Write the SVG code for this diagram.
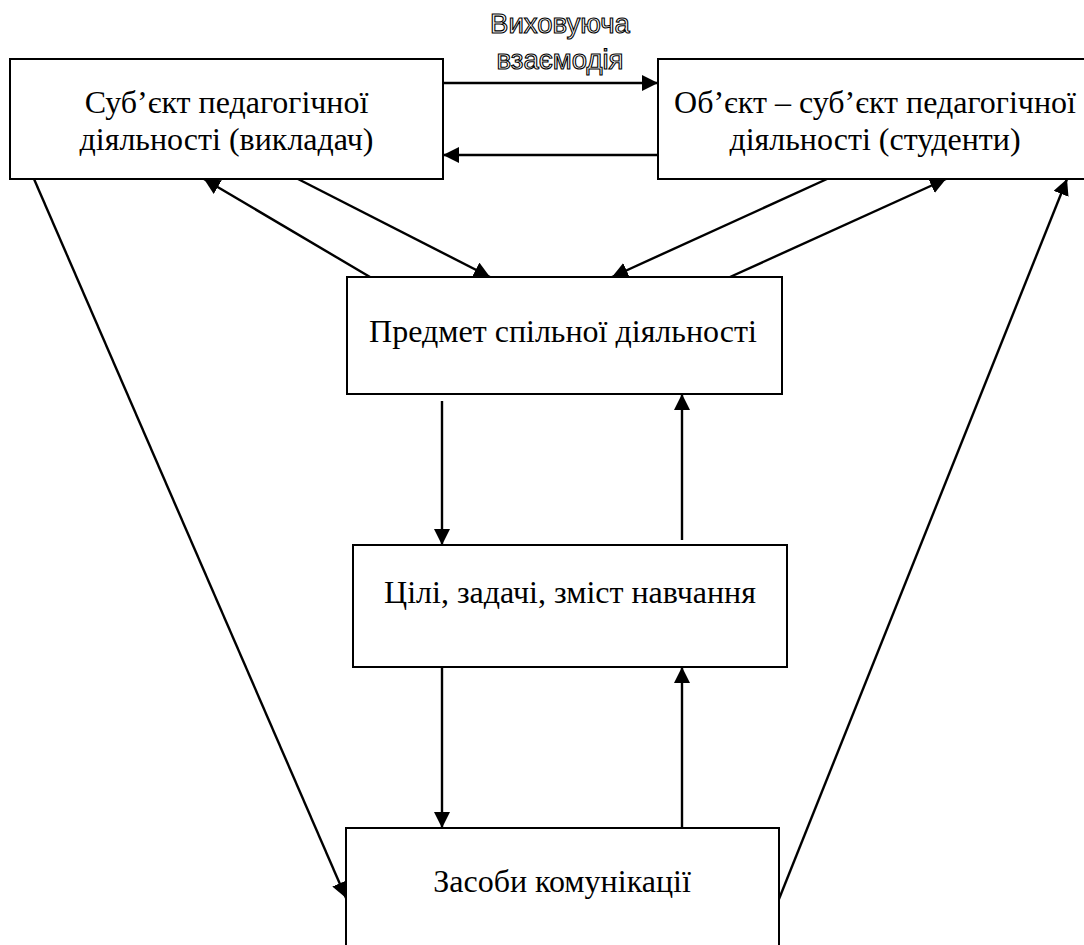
<svg xmlns="http://www.w3.org/2000/svg" width="1084" height="945" viewBox="0 0 1084 945">
  <style>
    .box { fill: #ffffff; stroke: #000000; stroke-width: 2; }
    .edge { stroke: #000000; stroke-width: 2.4; fill: none; }
  </style>
  <defs>
    <marker id="ah" markerUnits="userSpaceOnUse" markerWidth="18" markerHeight="16" refX="16" refY="8" orient="auto">
      <path d="M0,0 L16,8 L0,16 z" fill="#000000"/>
    </marker>
  </defs>
  <rect width="1084" height="945" fill="#ffffff"/>

  <g font-family="'Liberation Serif', 'DejaVu Serif', 'Times New Roman', serif" font-size="32" fill="#000000" text-anchor="middle">
    <g id="node-subject">
      <rect class="box" x="10" y="59" width="433" height="120"/>
      <text x="226.5" y="113">Суб’єкт педагогічної</text>
      <text x="226.5" y="150">діяльності (викладач)</text>
    </g>

    <g id="node-object">
      <rect class="box" x="658" y="59" width="440" height="120"/>
      <text x="875" y="113">Об’єкт – суб’єкт педагогічної</text>
      <text x="875" y="150">діяльності (студенти)</text>
    </g>

    <g id="node-subject-matter">
      <rect class="box" x="347" y="277" width="435" height="117"/>
      <text x="563" y="342">Предмет спільної діяльності</text>
    </g>

    <g id="node-goals">
      <rect class="box" x="353" y="545" width="434" height="122"/>
      <text x="570" y="603">Цілі, задачі, зміст навчання</text>
    </g>

    <g id="node-means">
      <rect class="box" x="346" y="828" width="433" height="130"/>
      <text x="562" y="892">Засоби комунікації</text>
    </g>
  </g>

  <g id="label-interaction" font-family="'Liberation Sans', Arial, sans-serif" font-size="27.5" fill="#ffffff" stroke="#000000" stroke-width="1.1" text-anchor="middle">
    <text x="560" y="33">Виховуюча</text>
    <text x="560" y="69">взаємодія</text>
  </g>

  <g id="connectors">
    <line class="edge" x1="443" y1="83" x2="658" y2="83" marker-end="url(#ah)"/>
    <line class="edge" x1="658" y1="155" x2="443" y2="155" marker-end="url(#ah)"/>

    <line class="edge" x1="370" y1="277" x2="204" y2="179" marker-end="url(#ah)"/>
    <line class="edge" x1="298" y1="179" x2="490" y2="277" marker-end="url(#ah)"/>

    <line class="edge" x1="827" y1="179" x2="612" y2="277" marker-end="url(#ah)"/>
    <line class="edge" x1="730" y1="277" x2="946" y2="179" marker-end="url(#ah)"/>

    <line class="edge" x1="442" y1="401" x2="442" y2="545" marker-end="url(#ah)"/>
    <line class="edge" x1="682" y1="540" x2="682" y2="394" marker-end="url(#ah)"/>

    <line class="edge" x1="442" y1="667" x2="442" y2="828" marker-end="url(#ah)"/>
    <line class="edge" x1="682" y1="828" x2="682" y2="667" marker-end="url(#ah)"/>

    <line class="edge" x1="34" y1="179" x2="346" y2="898" marker-end="url(#ah)"/>
    <line class="edge" x1="779" y1="899" x2="1067" y2="179" marker-end="url(#ah)"/>
  </g>
</svg>
